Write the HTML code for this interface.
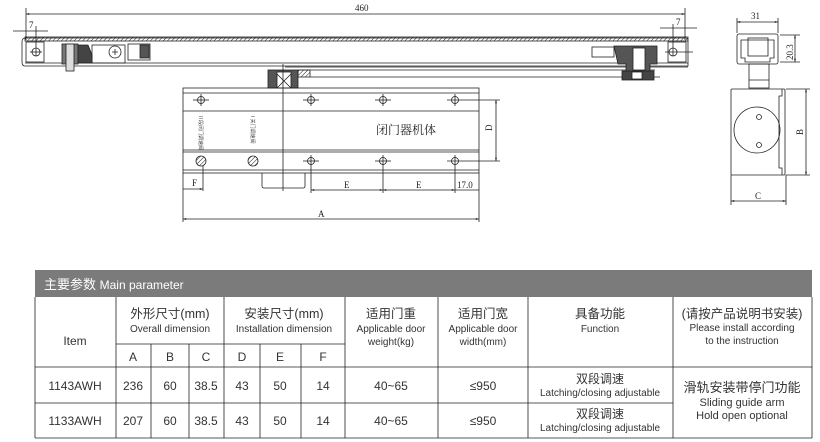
<!DOCTYPE html>
<html><head><meta charset="utf-8"><style>
body{margin:0;background:#fff;width:820px;height:442px;overflow:hidden;position:relative;font-family:"Liberation Sans","Noto Sans CJK SC",sans-serif}
svg{position:absolute;left:0;top:0}
</style></head><body>
<svg width="820" height="442" viewBox="0 0 820 442" xmlns="http://www.w3.org/2000/svg">
<defs>
<pattern id="h" width="3" height="3" patternUnits="userSpaceOnUse" patternTransform="rotate(45)"><line x1="0" y1="0" x2="0" y2="3" stroke="#222" stroke-width="1"/></pattern>
<marker id="a" viewBox="0 0 10 10" refX="10" refY="5" markerWidth="6" markerHeight="4" orient="auto-start-reverse"><path d="M0,2 L10,5 L0,8z" fill="#222"/></marker>
</defs>
<g stroke="#222" fill="none" stroke-width="0.8" font-family="Liberation Serif,serif" font-size="9">
<!-- 460 dim -->
<line x1="26" y1="8" x2="26" y2="40"/><line x1="685" y1="8" x2="685" y2="40"/>
<line x1="26" y1="14" x2="685" y2="14" marker-start="url(#a)" marker-end="url(#a)"/>
<text x="355" y="11" fill="#222" stroke="none">460</text>
<!-- 7 dims -->
<line x1="13" y1="31" x2="48" y2="31"/><line x1="36" y1="26" x2="36" y2="56"/><text x="29" y="28" fill="#222" stroke="none">7</text>
<line x1="660" y1="28" x2="697" y2="28"/><line x1="673" y1="24" x2="673" y2="56"/><text x="676" y="25" fill="#222" stroke="none">7</text>
<!-- rail -->
<rect x="25" y="37" width="663" height="4" fill="url(#h)"/>
<path d="M25,38 H686 Q688,38 688,41 V66 H25 Q22,66 22,62 V42 Q22,38 25,38z"/>
<line x1="25" y1="63" x2="688" y2="63"/>
<rect x="26" y="42" width="18" height="20"/><circle cx="36" cy="52" r="4"/><line x1="30" y1="52" x2="42" y2="52"/>
<rect x="668" y="42" width="18" height="20"/><circle cx="673" cy="52" r="4"/><line x1="665" y1="52" x2="693" y2="52"/>
<rect x="62" y="44" width="16" height="20" fill="#777"/><rect x="66" y="44" width="8" height="27" fill="#ddd"/>
<path d="M78,45 H88 L92,55 V63 H78z" fill="#444"/>
<rect x="92" y="45" width="33" height="18"/><circle cx="115" cy="52" r="6"/><path d="M112,52 h6 M115,49 v6"/>
<rect x="128" y="44" width="22" height="16"/><rect x="140" y="45" width="9" height="13" fill="#555"/>
<!-- lower arm -->
<line x1="285" y1="67" x2="688" y2="67"/><line x1="300" y1="70" x2="655" y2="70"/><line x1="310" y1="77" x2="660" y2="77"/>
<!-- right carriage -->
<rect x="592" y="47" width="22" height="10"/>
<path d="M614,46 H657 V64 H650 V76 H626 V64 H618z" fill="#555"/>
<rect x="633" y="48" width="12" height="22" fill="#fff"/>
<rect x="622" y="71" width="32" height="9" fill="#444"/><rect x="632" y="72" width="10" height="7" fill="#fff"/>
<!-- bracket -->
<rect x="268" y="70" width="30" height="18" fill="#555"/><rect x="277" y="72" width="14" height="16" fill="#fff"/><path d="M277,74 L291,88 M291,74 L277,88"/><rect x="298" y="70" width="12" height="7" fill="url(#h)"/>
<!-- body -->
<rect x="183" y="88" width="296" height="85"/>
<line x1="183" y1="93" x2="479" y2="93"/><line x1="183" y1="111" x2="479" y2="111"/>
<line x1="183" y1="150" x2="479" y2="150"/><line x1="183" y1="152" x2="479" y2="152"/><line x1="183" y1="170" x2="479" y2="170"/>
<line x1="283" y1="64" x2="283" y2="191"/>
<path d="M262,173 V186 Q262,188 264,188 H303 Q305,188 305,186 V173"/>
<g>
<circle cx="201" cy="100" r="3.5"/><line x1="193" y1="100" x2="209" y2="100"/><line x1="201" y1="94" x2="201" y2="106"/>
<circle cx="311" cy="100" r="3.5"/><line x1="303" y1="100" x2="319" y2="100"/><line x1="311" y1="94" x2="311" y2="106"/>
<circle cx="383" cy="100" r="3.5"/><line x1="375" y1="100" x2="391" y2="100"/><line x1="383" y1="94" x2="383" y2="106"/>
<circle cx="455" cy="100" r="3.5"/><line x1="447" y1="100" x2="500" y2="100"/><line x1="455" y1="94" x2="455" y2="106"/>
<circle cx="201" cy="161" r="5" fill="url(#h)"/><circle cx="253" cy="161" r="5" fill="url(#h)"/>
<circle cx="311" cy="161" r="3.5"/><line x1="303" y1="161" x2="319" y2="161"/><line x1="311" y1="155" x2="311" y2="193"/>
<circle cx="383" cy="161" r="3.5"/><line x1="375" y1="161" x2="391" y2="161"/><line x1="383" y1="155" x2="383" y2="193"/>
<circle cx="455" cy="161" r="3.5"/><line x1="447" y1="161" x2="500" y2="161"/><line x1="455" y1="155" x2="455" y2="193"/>
</g>
<text x="376" y="134" font-size="12" fill="#222" stroke="none" font-family="Noto Serif CJK SC,serif">闭门器机体</text>
<text font-size="5" fill="#444" stroke="none" transform="translate(199,116) rotate(90)" font-family="Noto Sans CJK SC,sans-serif">II 段闭门调速阀</text>
<text font-size="5" fill="#444" stroke="none" transform="translate(251,116) rotate(90)" font-family="Noto Sans CJK SC,sans-serif">I 关门调速阀</text>
<!-- D -->
<line x1="496" y1="100" x2="496" y2="161" marker-start="url(#a)" marker-end="url(#a)"/>
<text fill="#222" stroke="none" transform="translate(492,131) rotate(-90)">D</text>
<!-- E, F, 17 -->
<line x1="311" y1="190" x2="383" y2="190" marker-start="url(#a)" marker-end="url(#a)"/>
<line x1="383" y1="190" x2="455" y2="190" marker-start="url(#a)" marker-end="url(#a)"/>
<text x="344" y="188" fill="#222" stroke="none">E</text><text x="416" y="188" fill="#222" stroke="none">E</text>
<line x1="455" y1="190" x2="479" y2="190"/><text x="457" y="188" fill="#222" stroke="none">17.0</text>
<line x1="183" y1="173" x2="183" y2="222"/><line x1="479" y1="173" x2="479" y2="222"/>
<line x1="203" y1="166" x2="203" y2="191"/>
<line x1="183" y1="189" x2="203" y2="189" marker-end="url(#a)"/><text x="192" y="186" fill="#222" stroke="none">F</text>
<line x1="183" y1="219" x2="479" y2="219" marker-start="url(#a)" marker-end="url(#a)"/><text x="318" y="217" fill="#222" stroke="none">A</text>
<!-- side view -->
<line x1="737" y1="18" x2="737" y2="33"/><line x1="778" y1="18" x2="778" y2="33"/>
<line x1="737" y1="22" x2="778" y2="22" marker-start="url(#a)" marker-end="url(#a)"/><text x="751" y="19" fill="#222" stroke="none">31</text>
<rect x="737" y="34" width="41" height="30" rx="2"/>
<path d="M741,40 H774 V58 H770 V62 H745 V58 H741z"/>
<rect x="748" y="38" width="20" height="18"/>
<line x1="780" y1="35" x2="800" y2="35"/><line x1="780" y1="62" x2="800" y2="62"/>
<line x1="795" y1="35" x2="795" y2="62" marker-start="url(#a)" marker-end="url(#a)"/>
<text fill="#222" stroke="none" transform="translate(793,60) rotate(-90)">20.3</text>
<rect x="749" y="64" width="20" height="24"/><line x1="749" y1="80" x2="769" y2="80"/>
<rect x="731" y="89" width="54" height="86" rx="1"/>
<path d="M782,89 V96 H779 V168 H782 V175"/>
<circle cx="757" cy="130" r="23"/>
<circle cx="759" cy="117" r="2.5"/><circle cx="759" cy="145" r="2.5"/>
<line x1="786" y1="89" x2="810" y2="89"/><line x1="786" y1="175" x2="810" y2="175"/>
<line x1="806" y1="89" x2="806" y2="175" marker-start="url(#a)" marker-end="url(#a)"/>
<text fill="#222" stroke="none" transform="translate(803,135) rotate(-90)">B</text>
<line x1="731" y1="175" x2="731" y2="205"/><line x1="786" y1="175" x2="786" y2="205"/>
<line x1="731" y1="201" x2="786" y2="201" marker-start="url(#a)" marker-end="url(#a)"/><text x="755" y="199" fill="#222" stroke="none">C</text>
</g>

<!-- table -->
<rect x="35" y="270" width="777" height="27" fill="#7b7b7b"/>
<text x="44" y="289" fill="#fff" font-size="13">主要参数 <tspan font-size="12">Main parameter</tspan></text>
<g stroke="#222" stroke-width="0.8">
<line x1="35" y1="297" x2="35" y2="438"/><line x1="812" y1="297" x2="812" y2="438"/>
<line x1="35" y1="438" x2="812" y2="438"/>
<line x1="35" y1="367" x2="812" y2="367"/>
<line x1="35" y1="403" x2="673" y2="403"/>
<line x1="116" y1="344" x2="345" y2="344"/>
<line x1="116" y1="297" x2="116" y2="438"/><line x1="224" y1="297" x2="224" y2="438"/>
<line x1="345" y1="297" x2="345" y2="438"/><line x1="438" y1="297" x2="438" y2="438"/>
<line x1="528" y1="297" x2="528" y2="438"/><line x1="673" y1="297" x2="673" y2="438"/>
<line x1="151" y1="344" x2="151" y2="438"/><line x1="189" y1="344" x2="189" y2="438"/>
<line x1="260" y1="344" x2="260" y2="438"/><line x1="301" y1="344" x2="301" y2="438"/>
</g>
<g fill="#333" font-size="10" text-anchor="middle">
<text x="75" y="345" font-size="12">Item</text>
<text x="170" y="318" font-size="12.5">外形尺寸(mm)</text><text x="170" y="332" font-size="10">Overall dimension</text>
<text x="284" y="318" font-size="12.5">安装尺寸(mm)</text><text x="284" y="332" font-size="10">Installation dimension</text>
<text x="391" y="318" font-size="12.5">适用门重</text><text x="391" y="332">Applicable door</text><text x="391" y="345">weight(kg)</text>
<text x="483" y="318" font-size="12.5">适用门宽</text><text x="483" y="332">Applicable door</text><text x="483" y="345">width(mm)</text>
<text x="600" y="318" font-size="12.5">具备功能</text><text x="600" y="332">Function</text>
<text x="742" y="318" font-size="12.5">(请按产品说明书安装)</text><text x="742" y="331">Please install according</text><text x="742" y="344">to the instruction</text>
<g font-size="12"><text x="133" y="361">A</text><text x="170" y="361">B</text><text x="206" y="361">C</text><text x="242" y="361">D</text><text x="280" y="361">E</text><text x="323" y="361">F</text></g>
<g font-size="12">
<text x="75" y="390">1143AWH</text><text x="133" y="390">236</text><text x="170" y="390">60</text><text x="206" y="390">38.5</text><text x="242" y="390">43</text><text x="280" y="390">50</text><text x="323" y="390">14</text><text x="391" y="390">40~65</text><text x="483" y="390">≤950</text>
<text x="75" y="425">1133AWH</text><text x="133" y="425">207</text><text x="170" y="425">60</text><text x="206" y="425">38.5</text><text x="242" y="425">43</text><text x="280" y="425">50</text><text x="323" y="425">14</text><text x="391" y="425">40~65</text><text x="483" y="425">≤950</text>
</g>
<text x="600" y="383" font-size="12">双段调速</text><text x="600" y="396">Latching/closing adjustable</text>
<text x="600" y="418" font-size="12">双段调速</text><text x="600" y="431">Latching/closing adjustable</text>
<text x="742" y="392" font-size="13">滑轨安装带停门功能</text><text x="742" y="406" font-size="11">Sliding guide arm</text><text x="742" y="419" font-size="11">Hold open optional</text>
</g>
</svg>
</body></html>
